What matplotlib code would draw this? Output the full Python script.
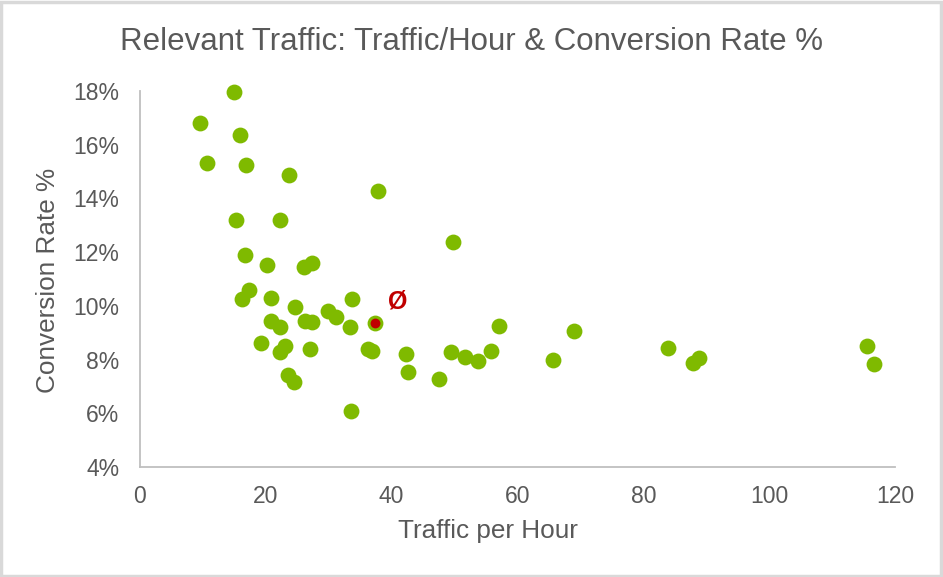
import matplotlib
matplotlib.use("Agg")
import matplotlib.pyplot as plt
from matplotlib.patches import Rectangle
from matplotlib.ticker import FuncFormatter

# Data (traffic per hour, conversion rate %)
traffic = [14.9, 9.5, 15.9, 10.7, 16.9, 23.7, 37.8, 15.3, 22.3, 49.7,
           16.7, 20.2, 26.0, 27.3, 17.3, 16.2, 20.8, 24.6, 29.9, 31.2,
           33.7, 20.9, 22.3, 26.2, 27.4, 33.4, 37.4, 19.3, 23.1, 22.3,
           27.0, 36.2, 36.9, 42.2, 42.6, 23.6, 24.5, 33.6, 47.5, 57.0,
           69.0, 49.4, 51.7, 53.7, 55.8, 65.6, 83.9, 88.9, 87.9, 115.6,
           116.7]
conversion = [17.97, 16.81, 16.38, 15.32, 15.26, 14.88, 14.29, 13.2, 13.2, 12.36,
              11.9, 11.53, 11.43, 11.59, 10.6, 10.27, 10.3, 9.97, 9.82, 9.6,
              10.24, 9.45, 9.21, 9.45, 9.4, 9.21, 9.35, 8.6, 8.51, 8.29,
              8.41, 8.38, 8.32, 8.2, 7.53, 7.44, 7.15, 6.08, 7.29, 9.26,
              9.07, 8.29, 8.09, 7.96, 8.33, 8.0, 8.43, 8.07, 7.89, 8.51,
              7.82]
highlight_x = [37.4]
highlight_y = [9.35]
avg_label_x = 41.0
avg_label_y = 10.16
avg_label = "Ø"

x_ticks = [0, 20, 40, 60, 80, 100, 120]
y_ticks = [4, 6, 8, 10, 12, 14, 16, 18]

TEXT = "#595959"
GREEN = "#7FBA00"
RED = "#C00000"
SPINE = "#BFBFBF"

plt.rcParams['font.family'] = ['Liberation Sans', 'DejaVu Sans']

fig = plt.figure(figsize=(9.43, 5.77), dpi=100)
fig.patch.set_facecolor("white")
fig.patches.append(Rectangle((0.001, 0.002), 0.997, 0.995, transform=fig.transFigure,
                             fill=False, edgecolor="#D9D9D9", linewidth=2.5))

ax = fig.add_axes([140/943, 1-467/577, (895-140)/943, (467-91)/577])
ax.scatter(traffic, conversion, s=130, color=GREEN, linewidths=0, zorder=3, clip_on=False)
ax.scatter(highlight_x, highlight_y, s=50, color=RED, linewidths=0, zorder=4, clip_on=False)
ax.text(avg_label_x, avg_label_y, avg_label, color=RED, fontsize=18, fontweight="bold",
        ha="center", va="center", zorder=5)

ax.set_xlim(0, 120)
ax.set_ylim(4, 18)
ax.set_xticks(x_ticks)
ax.set_yticks(y_ticks)
ax.yaxis.set_major_formatter(FuncFormatter(lambda v, p: f"{v:.0f}%"))
for s in ["top", "right"]:
    ax.spines[s].set_visible(False)
for s in ["left", "bottom"]:
    ax.spines[s].set_color(SPINE)
    ax.spines[s].set_linewidth(1.3)
ax.tick_params(axis="both", length=0, labelsize=16.5, colors=TEXT)
ax.tick_params(axis="x", pad=13)
ax.tick_params(axis="y", pad=15)

fig.text(488/943, 1-531/577, "Traffic per Hour", fontsize=18.8, color=TEXT,
         ha="center", va="center")
fig.text(48/943, 1-280/577, "Conversion Rate %", fontsize=18.8, color=TEXT,
         ha="center", va="center", rotation=90)
fig.text(472/943, 1-42/577, "Relevant Traffic: Traffic/Hour & Conversion Rate %",
         fontsize=22.5, color=TEXT, ha="center", va="center")

fig.savefig("out.png", dpi=100)
